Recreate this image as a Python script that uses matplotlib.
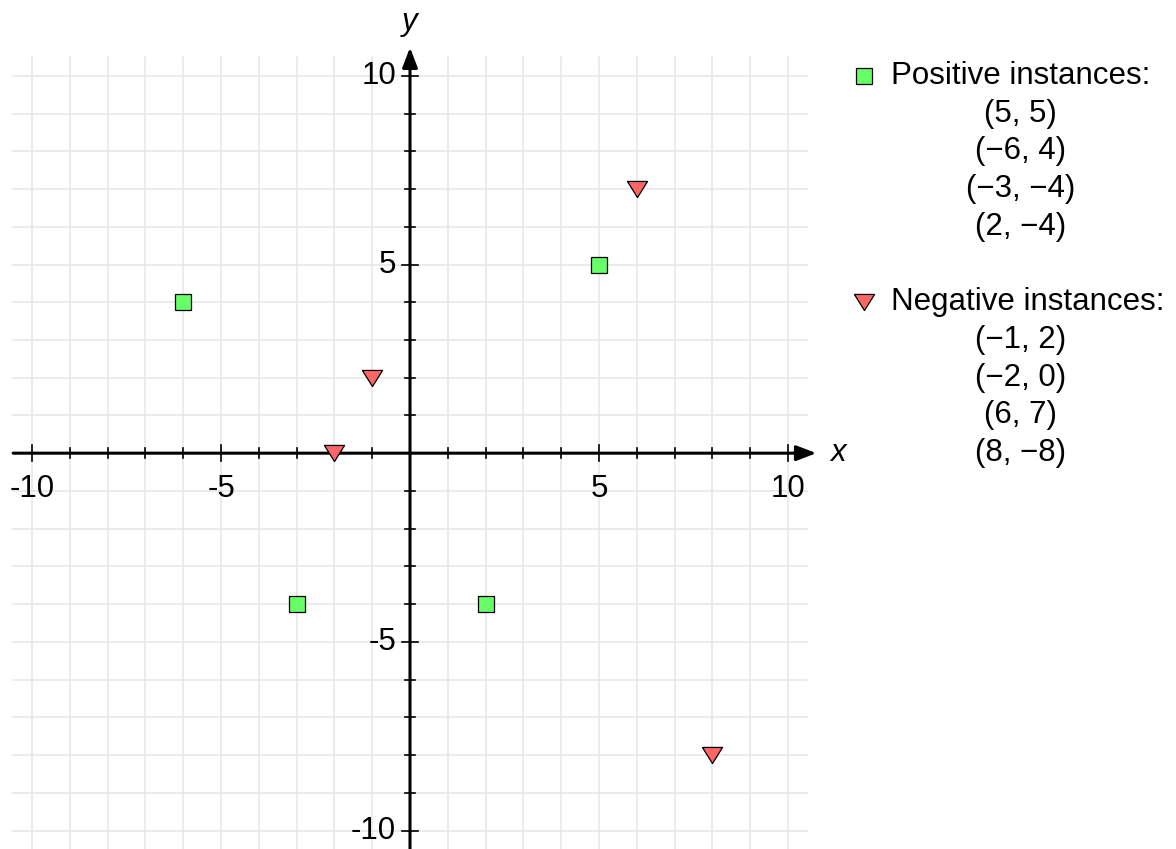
import matplotlib.pyplot as plt
import numpy as np

plt.rcParams['font.family'] = ['Liberation Sans', 'DejaVu Sans']

# Data
pos_x = [5, -6, -3, 2]
pos_y = [5, 4, -4, -4]
neg_x = [-1, -2, 6, 8]
neg_y = [2, 0, 7, -8]
tick_vals = [-10, -5, 5, 10]

px = 37.8  # pixels per data unit (used for small offsets)
fs = 22.5

fig = plt.figure(figsize=(11.76, 8.49), dpi=100)
ax = fig.add_axes([0, 0, 1, 1])
ax.axis('off')
ax.set_xlim(-10.847, 20.265)
ax.set_ylim(-10.49, 12.01)

# grid
for g in range(-10, 11):
    ax.plot([g, g], [-10.5, 10.5], color='#e6e6e6', lw=1.1, zorder=1)
    ax.plot([-10.5, 10.5], [g, g], color='#e6e6e6', lw=1.1, zorder=1)

# axes with arrow heads
arrow = dict(arrowstyle='-|>,head_length=0.6,head_width=0.23', lw=2.2,
             color='black', mutation_scale=20, shrinkA=0, shrinkB=0)
ax.annotate('', xy=(10.75, 0), xytext=(-10.5, 0), arrowprops=arrow,
            zorder=3)
ax.annotate('', xy=(0, 10.75), xytext=(0, -10.5), arrowprops=arrow,
            zorder=3)

# ticks
for t in range(-10, 11):
    if t == 0:
        continue
    h = (8 if t % 5 == 0 else 5) / px
    ax.plot([t, t], [-h, h], color='black', lw=1.2, zorder=3)
    ax.plot([-h, h], [t, t], color='black', lw=1.2, zorder=3)

for t in tick_vals:
    ax.text(t, -21 / px, str(t), ha='center', va='top', fontsize=fs)
    ax.text(-14 / px, t, str(t), ha='right', va='center', fontsize=fs)

ax.text(11.32, 0, 'x', ha='center', va='center', fontsize=fs,
        style='italic')
ax.text(0, 11.43, 'y', ha='center', va='center', fontsize=fs,
        style='italic')

# points
tri = [(-1, 0.8), (1, 0.8), (0, -0.8), (-1, 0.8)]
sq_style = dict(ls='none', marker='s', ms=11.5, mfc='#66ff66',
                mec='black', mew=0.9, zorder=5, clip_on=False)
tri_style = dict(ls='none', marker=tri, ms=14.5, mfc='#ff6666',
                 mec='black', mew=0.9, zorder=5, clip_on=False)
ax.plot(pos_x, pos_y, **sq_style)
ax.plot(neg_x, neg_y, **tri_style)


def fmt(v):
    return str(v).replace('-', '\u2212')


# legend-like text block
ax.plot([12.01], [10], **sq_style)
ax.text(12.72, 10, 'Positive instances:', ha='left', va='center',
        fontsize=fs)
for i, (a, b) in enumerate(zip(pos_x, pos_y)):
    ax.text(16.16, 9 - i, f'({fmt(a)}, {fmt(b)})', ha='center',
            va='center', fontsize=fs)

ax.plot([12.01], [4], **tri_style)
ax.text(12.72, 4, 'Negative instances:', ha='left', va='center',
        fontsize=fs)
for i, (a, b) in enumerate(zip(neg_x, neg_y)):
    ax.text(16.16, 3 - i, f'({fmt(a)}, {fmt(b)})', ha='center',
            va='center', fontsize=fs)

fig.savefig('out.png', dpi=100)
